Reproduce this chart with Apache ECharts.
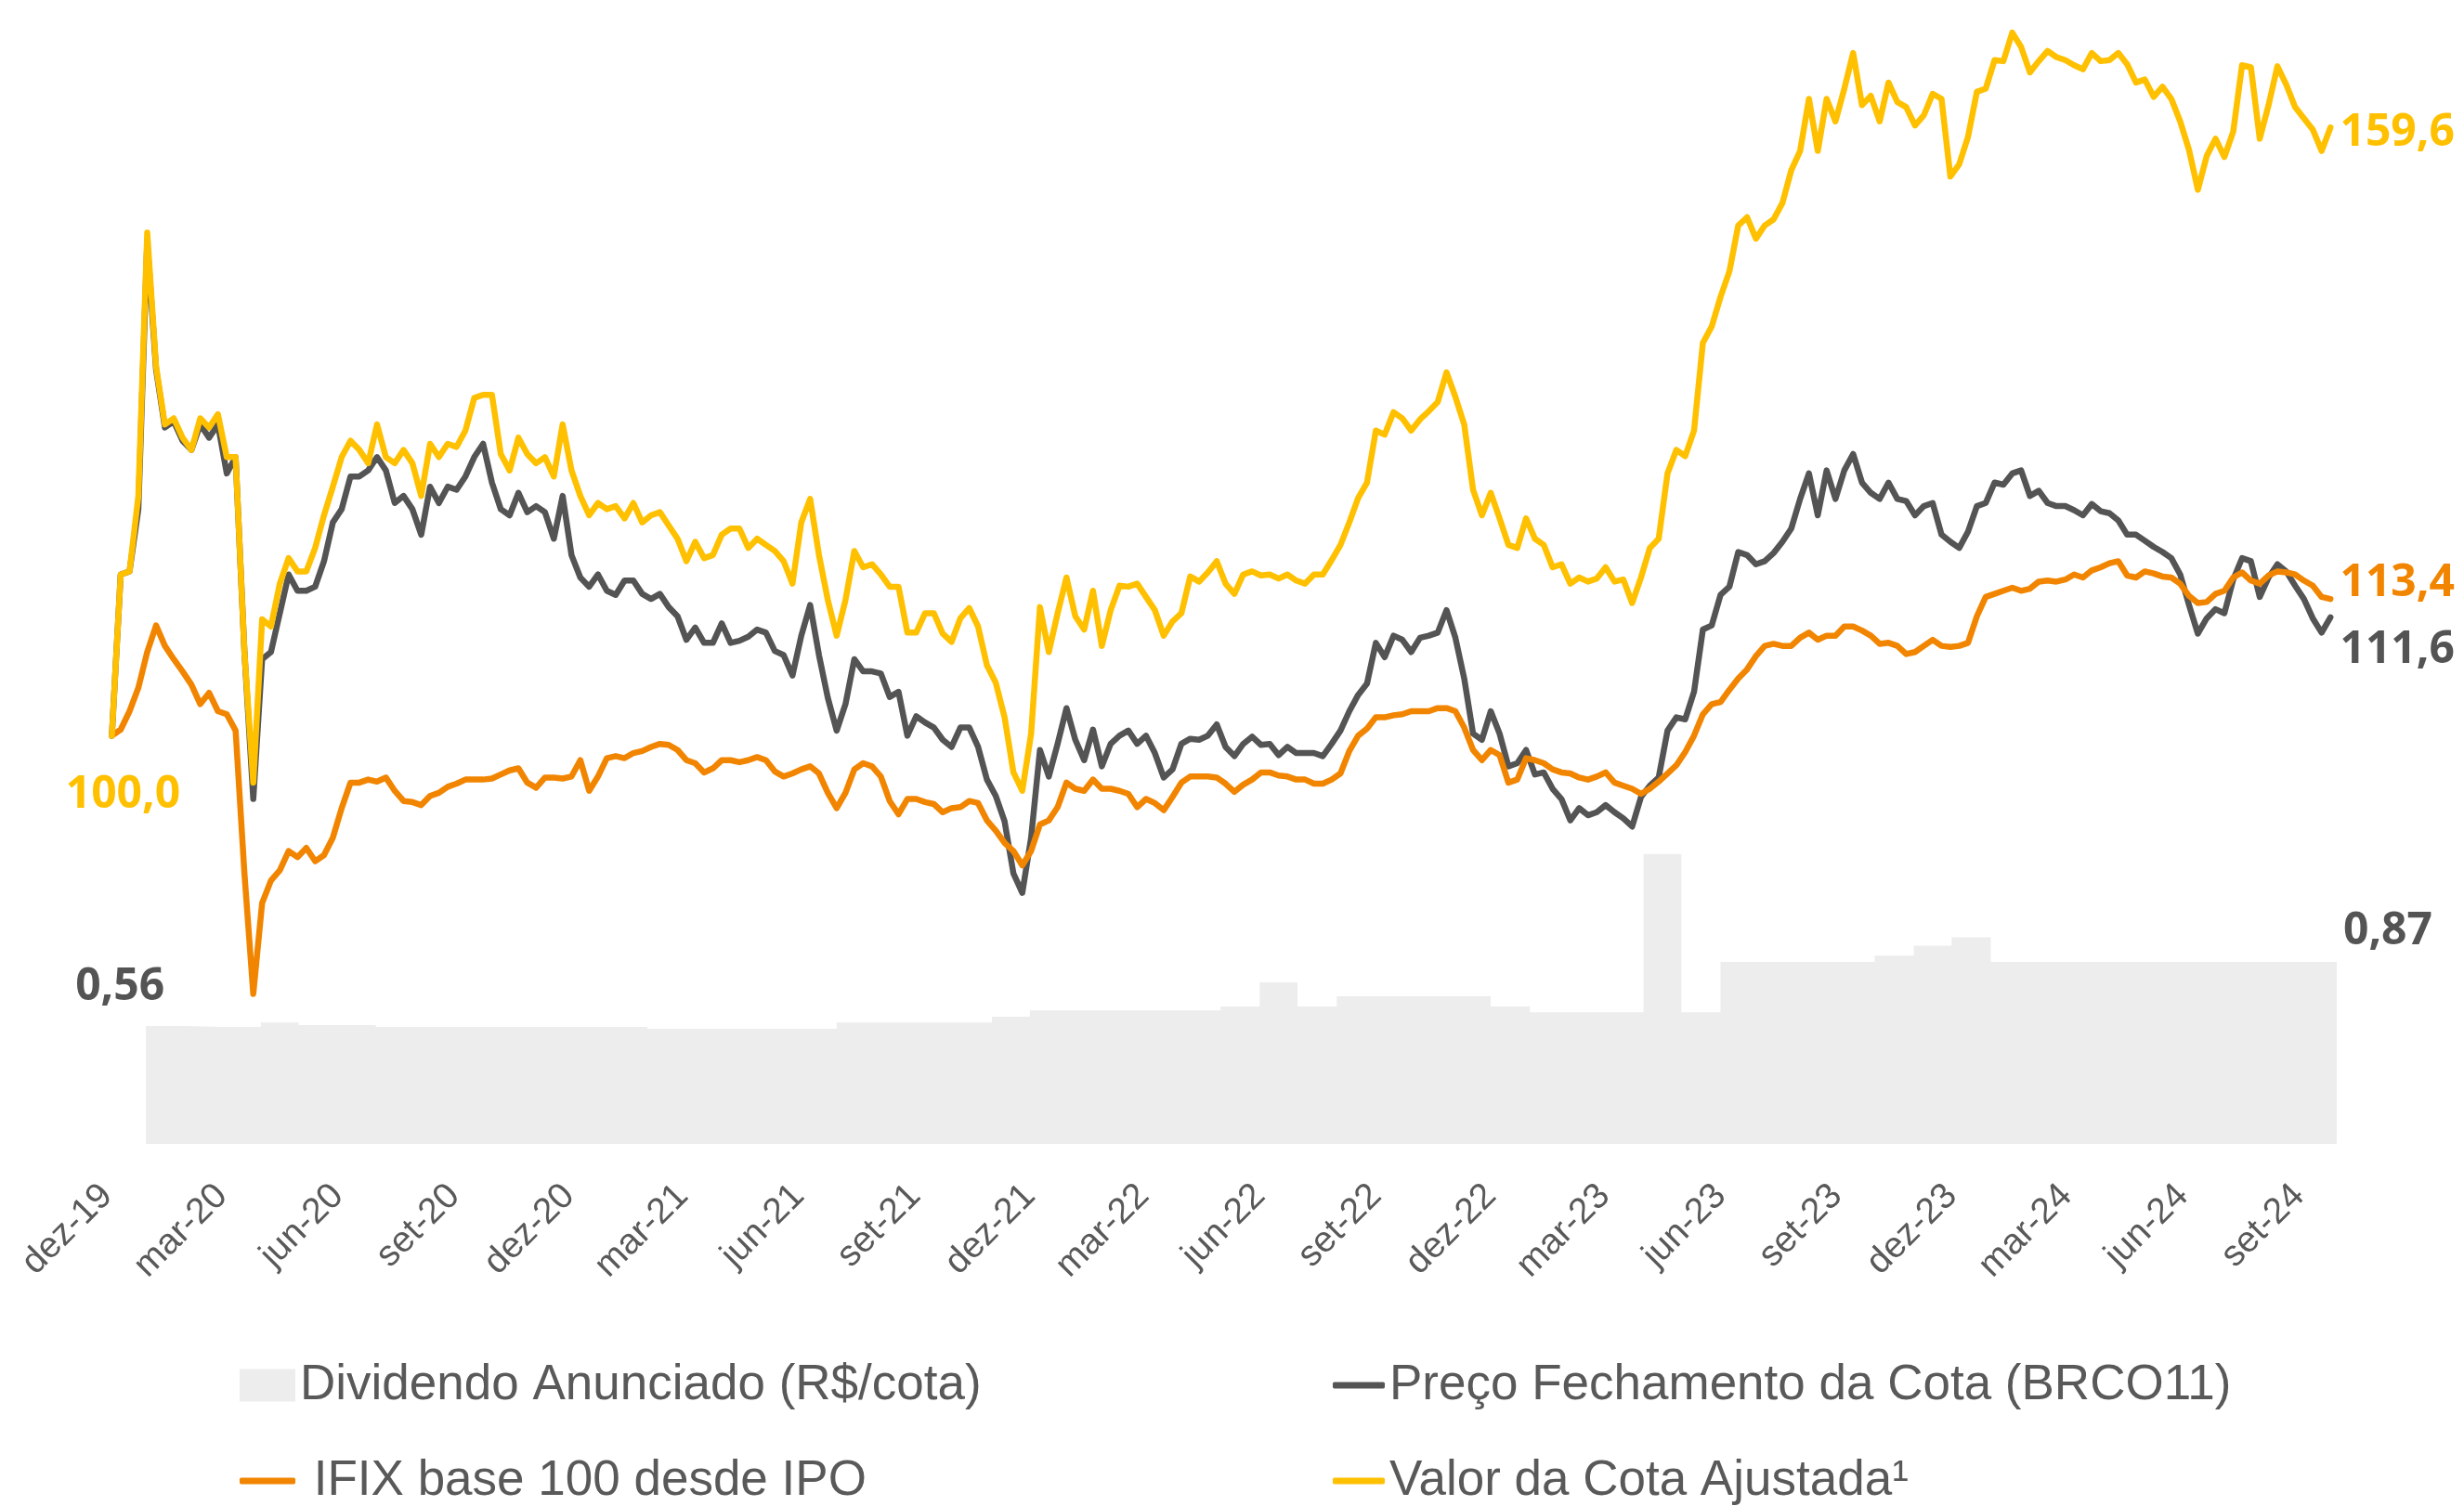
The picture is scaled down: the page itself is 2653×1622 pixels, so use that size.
<!DOCTYPE html>
<html><head><meta charset="utf-8">
<script src="https://cdn.jsdelivr.net/npm/echarts@6/dist/echarts.min.js"></script>
<style>html,body{margin:0;padding:0;background:#fff}#c{width:2653px;height:1622px}</style>
</head><body><div id="c"></div>
<script>
// ---- tick labels (quarterly) ----
const tickDates = ['2019-12-01','2020-03-01','2020-06-01','2020-09-01','2020-12-01','2021-03-01','2021-06-01','2021-09-01','2021-12-01','2022-03-01','2022-06-01','2022-09-01','2022-12-01','2023-03-01','2023-06-01','2023-09-01','2023-12-01','2024-03-01','2024-06-01','2024-09-01'];
const tickLabels = ['dez-19','mar-20','jun-20','set-20','dez-20','mar-21','jun-21','set-21','dez-21','mar-22','jun-22','set-22','dez-22','mar-23','jun-23','set-23','dez-23','mar-24','jun-24','set-24'];

// ---- weekly closes, first week 2019-12-05 ----
const firstWeek = '2019-12-05';
const valorCota = [
100.0,115.8,116.1,123.5,149.3,136.2,130.5,131.1,129.2,128.0,
131.1,130.2,131.5,127.3,127.3,108.2,95.4,111.4,110.7,114.9,
117.4,116.1,116.1,118.4,121.6,124.4,127.3,128.9,128.0,126.7,
130.5,127.3,126.7,128.0,126.7,123.5,128.6,127.3,128.6,128.3,
129.9,133.1,133.4,133.4,127.6,126.0,129.2,127.6,126.7,127.3,
125.4,130.5,126.0,123.5,121.6,122.8,122.2,122.5,121.3,122.8,
120.9,121.6,121.9,120.6,119.3,117.1,119.0,117.4,117.7,119.7,
120.3,120.3,118.4,119.3,118.7,118.1,117.1,114.9,120.9,123.2,
117.7,113.3,109.8,113.3,118.1,116.5,116.8,115.8,114.6,114.6,
110.1,110.1,112.0,112.0,110.0,109.2,111.5,112.5,110.7,106.9,
105.2,101.8,96.4,94.6,100.2,112.6,108.2,112.0,115.5,111.7,
110.4,114.2,108.8,112.3,114.7,114.6,114.9,113.6,112.3,109.8,
111.2,112.0,115.6,115.1,116.0,117.1,114.9,113.9,115.8,116.1,
115.7,115.8,115.4,115.8,115.2,114.9,115.8,115.8,117.2,118.7,
120.9,123.3,124.8,129.9,129.5,131.7,131.1,129.9,131.0,131.8,
132.7,135.6,133.2,130.5,124.1,121.6,123.8,121.3,118.7,118.4,
121.3,119.3,118.7,116.5,116.8,114.9,115.5,115.1,115.4,116.5,
115.1,115.3,113.0,115.5,118.4,119.3,125.7,128.0,127.4,129.9,
138.5,140.1,143.0,145.5,150.0,150.8,148.7,150.0,150.6,152.2,
155.4,157.3,162.4,157.3,162.4,160.2,163.4,166.9,161.8,162.7,
160.2,164.0,162.1,161.6,159.8,160.8,162.9,162.4,154.8,156.0,
158.7,163.1,163.4,166.2,166.1,168.9,167.5,165.0,166.1,167.1,
166.5,166.2,165.7,165.3,166.9,166.1,166.2,166.9,165.8,164.0,
164.3,162.6,163.6,162.4,160.2,157.4,153.5,156.8,158.5,156.7,
159.2,165.7,165.5,158.5,161.8,165.6,163.8,161.6,160.5,159.4,
157.3,159.6];
const precoCota = [
100.0,115.8,116.1,122.2,148.4,135.9,130.2,130.8,128.9,128.0,
130.5,129.2,130.5,125.7,127.3,108.2,93.8,107.5,108.2,112.0,
115.8,114.2,114.2,114.6,117.1,120.9,122.2,125.4,125.4,126.0,
127.3,126.0,122.8,123.5,122.2,119.7,124.4,122.8,124.4,124.1,
125.4,127.3,128.6,124.8,122.2,121.6,123.8,121.9,122.5,121.9,
119.3,123.5,117.7,115.5,114.6,115.8,114.2,113.8,115.2,115.2,
113.9,113.4,113.9,112.6,111.7,109.4,110.6,109.1,109.1,111.0,
109.1,109.3,109.7,110.4,110.1,108.3,107.9,105.9,109.8,112.8,
107.9,103.7,100.5,103.1,107.5,106.3,106.3,106.1,103.8,104.3,
100.0,101.9,101.3,100.8,99.6,98.9,100.8,100.8,98.9,95.7,
94.1,91.6,86.5,84.6,90.0,98.6,96.0,99.2,102.7,99.6,
97.6,100.6,97.0,99.2,100.0,100.5,99.2,100.0,98.3,95.9,
96.7,99.2,99.7,99.6,100.0,101.1,98.9,98.0,99.2,99.9,
99.1,99.2,98.1,98.9,98.3,98.3,98.3,98.0,99.2,100.5,
102.4,104.0,105.1,109.1,107.7,109.8,109.4,108.2,109.6,109.8,
110.1,112.3,109.6,105.6,100.2,99.6,102.4,100.2,97.0,97.3,
98.6,96.2,96.4,94.8,93.8,91.7,92.9,92.2,92.5,93.2,
92.5,91.9,91.1,94.0,95.1,95.9,100.5,101.8,101.6,104.3,
110.4,110.8,113.8,114.6,118.0,117.7,116.8,117.1,117.9,119.0,
120.3,123.2,125.7,121.6,126.0,123.2,126.0,127.6,124.8,123.8,
123.2,124.8,123.2,123.0,121.6,122.5,122.8,119.7,119.0,118.4,
120.0,122.5,122.8,124.8,124.6,125.7,126.0,123.5,124.0,122.8,
122.5,122.5,122.1,121.6,122.7,122.0,121.8,121.1,119.7,119.7,
119.1,118.5,118.0,117.4,115.8,112.8,110.0,111.5,112.4,112.0,
115.3,117.4,117.1,113.6,115.5,116.8,116.1,114.7,113.4,111.5,
110.1,111.6];
const ifix = [
100.0,100.6,102.4,104.7,108.2,110.8,108.8,107.5,106.3,105.0,
103.1,104.2,102.4,102.1,100.5,86.5,74.7,83.6,85.8,86.8,
88.7,88.1,89.0,87.7,88.3,90.0,92.9,95.4,95.4,95.7,
95.5,95.9,94.6,93.6,93.5,93.2,94.1,94.4,95.0,95.3,
95.7,95.7,95.7,95.8,96.2,96.6,96.8,95.4,94.9,95.9,
95.9,95.8,96.0,97.6,94.6,96.0,97.8,98.0,97.8,98.3,
98.5,98.9,99.2,99.1,98.6,97.6,97.3,96.4,96.8,97.6,
97.6,97.4,97.6,97.9,97.6,96.5,96.0,96.3,96.7,97.0,
96.3,94.4,92.9,94.4,96.7,97.3,97.0,96.0,93.6,92.3,
93.8,93.8,93.5,93.3,92.5,92.9,93.0,93.6,93.4,91.7,
90.7,89.5,88.7,87.3,88.7,91.3,91.7,93.0,95.4,94.8,
94.6,95.7,94.8,94.8,94.6,94.3,93.0,93.8,93.4,92.7,
94.0,95.4,96.0,96.0,96.0,95.9,95.3,94.5,95.2,95.7,
96.4,96.4,96.1,96.0,95.7,95.7,95.3,95.3,95.7,96.3,
98.5,100.0,100.7,101.8,101.8,102.0,102.1,102.4,102.4,102.4,
102.7,102.7,102.4,100.8,98.6,97.6,98.6,98.1,95.4,95.7,
97.8,97.6,97.3,96.7,96.4,96.3,95.9,95.7,96.0,96.4,
95.4,95.1,94.8,94.3,94.8,95.5,96.3,97.1,98.4,100.0,
102.1,103.1,103.3,104.5,105.6,106.5,107.8,108.8,109.0,108.8,
108.8,109.6,110.1,109.4,109.8,109.8,110.7,110.7,110.3,109.8,
109.0,109.1,108.8,108.0,108.2,108.8,109.4,108.8,108.7,108.8,
109.1,111.7,113.6,113.9,114.2,114.5,114.2,114.4,115.1,115.2,
115.1,115.3,115.8,115.5,116.2,116.5,116.9,117.1,115.7,115.5,
116.1,115.9,115.6,115.5,114.9,113.7,113.0,113.1,113.9,114.2,
115.5,116.0,115.2,114.9,115.7,116.1,116.0,115.8,115.2,114.7,
113.6,113.4];

// ---- monthly dividends (R$/cota), Jan 2020 .. Sep 2024 ----
const firstDividendMonth = '2020-01-01';
const dividendo = [
0.564,0.559,0.559,0.580,0.568,0.568,
0.559,0.559,0.559,0.559,0.559,0.559,
0.559,0.550,0.550,0.550,0.550,0.550,
0.580,0.580,0.580,0.580,0.608,0.638,
0.638,0.638,0.638,0.638,0.657,0.772,
0.657,0.706,0.706,0.706,0.706,0.657,
0.629,0.629,0.629,1.386,0.629,0.870,
0.870,0.870,0.870,0.900,0.948,0.987,
0.870,0.870,0.870,0.870,0.870,0.870,0.870,0.870,0.870];

const names = {
  div: 'Dividendo Anunciado (R$/cota)',
  preco: 'Preço Fechamento da Cota (BRCO11)',
  ifix: ' IFIX base 100 desde IPO',
  valor: 'Valor da Cota Ajustada¹'
};
const colors = { div:'#ededed', preco:'#545454', ifix:'#f28500', valor:'#ffc000' };

function parseD(s){ const p = s.split('-').map(Number); return new Date(p[0], p[1]-1, p[2]); }
const w0 = parseD(firstWeek);
const weekTimes = valorCota.map((_, k) => new Date(w0.getFullYear(), w0.getMonth(), w0.getDate() + 7*k).getTime());
const m0 = parseD(firstDividendMonth);
const monthTimes = [];
for (let i = 0; i <= dividendo.length; i++) monthTimes.push(new Date(m0.getFullYear(), m0.getMonth() + i, 1).getTime());
const divData = dividendo.map((v, i) => [monthTimes[i], v]);
divData.push([monthTimes[dividendo.length], dividendo[dividendo.length-1]]);
const pair = arr => arr.map((v, k) => [weekTimes[k], v]);
const tickTimes = tickDates.map(s => parseD(s).getTime());

const fmt = (v, d) => v.toFixed(d).replace('.', ',');
const lblStyle = (color, offset) => ({ show:true, position:'inside', offset, color, fontSize:48, fontWeight:'bold', fontFamily:'Open Sans' });
function markPts(items){
  return { symbol:'circle', symbolSize:1, itemStyle:{color:'rgba(0,0,0,0)'}, silent:true, animation:false,
    data: items.map(it => ({ coord: it.coord, value: it.text, label: Object.assign(lblStyle(it.color, it.offset), { formatter: it.text }) })) };
}
const lastK = valorCota.length - 1;
const LW = 6.5;

const legendBase = { padding:0, selectedMode:false, orient:'horizontal',
  textStyle:{ fontFamily:'Liberation Sans, Arial, sans-serif', fontSize:53, color:'#595959', lineHeight:60 } };

const option = {
  animation:false,
  backgroundColor:'#ffffff',
  grid:{ left:115, right:137, top:23, bottom:390, containLabel:false },
  xAxis:{ type:'value', min: parseD('2019-12-01').getTime(), max: parseD('2024-10-01').getTime(),
    axisLine:{show:false}, axisTick:{show:false}, splitLine:{show:false},
    axisLabel:{ customValues: tickTimes, rotate:45, margin:50, fontFamily:'Liberation Sans, Arial, sans-serif', fontSize:39, color:'#595959',
      formatter: v => { let best = 0; for (let i = 1; i < tickTimes.length; i++) if (Math.abs(tickTimes[i]-v) < Math.abs(tickTimes[best]-v)) best = i; return tickLabels[best]; } } },
  yAxis:[
    { type:'value', min:60, max:170, show:false, splitLine:{show:false} },
    { type:'value', min:0, max:5.366, show:false, splitLine:{show:false} }
  ],
  legend:[
    Object.assign({}, legendBase, { left:258, top:1462, itemWidth:60, itemHeight:35, data:[{name:names.div, icon:'rect'}] }),
    Object.assign({}, legendBase, { left:258, top:1565, itemWidth:60, itemHeight:7, data:[{name:names.ifix, icon:'roundRect'}] }),
    Object.assign({}, legendBase, { left:1435, top:1462, itemWidth:56, itemHeight:7, data:[{name:names.preco, icon:'roundRect'}] }),
    Object.assign({}, legendBase, { left:1435, top:1565, itemWidth:56, itemHeight:7, data:[{name:names.valor, icon:'roundRect'}] })
  ],
  series:[
    { name:names.div, type:'line', yAxisIndex:1, step:'end', symbol:'none', z:1,
      itemStyle:{color:colors.div}, lineStyle:{color:colors.div, width:0, opacity:0},
      areaStyle:{color:colors.div, opacity:1}, data: divData,
      markPoint: markPts([
        { coord:divData[0], text:fmt(dividendo[0],2), color:'#545454', offset:[-28,-42] },
        { coord:divData[divData.length-1], text:fmt(dividendo[dividendo.length-1],2), color:'#545454', offset:[55,-33] }
      ]) },
    { name:names.preco, type:'line', symbol:'none', z:3, itemStyle:{color:colors.preco},
      lineStyle:{color:colors.preco, width:LW, join:'round', cap:'round'}, data: pair(precoCota),
      markPoint: markPts([{ coord:[weekTimes[lastK], precoCota[lastK]], text:fmt(precoCota[lastK],1), color:'#545454', offset:[72,35] }]) },
    { name:names.ifix, type:'line', symbol:'none', z:4, itemStyle:{color:colors.ifix},
      lineStyle:{color:colors.ifix, width:LW, join:'round', cap:'round'}, data: pair(ifix),
      markPoint: markPts([{ coord:[weekTimes[lastK], ifix[lastK]], text:fmt(ifix[lastK],1), color:colors.ifix, offset:[72,-17] }]) },
    { name:names.valor, type:'line', symbol:'none', z:5, itemStyle:{color:colors.valor},
      lineStyle:{color:colors.valor, width:LW, join:'round', cap:'round'}, data: pair(valorCota),
      markPoint: markPts([
        { coord:[weekTimes[0], valorCota[0]], text:fmt(valorCota[0],1), color:colors.valor, offset:[12,64] },
        { coord:[weekTimes[lastK], valorCota[lastK]], text:fmt(valorCota[lastK],1), color:colors.valor, offset:[72,6] }
      ]) }
  ]
};
const chart = echarts.init(document.getElementById('c'), null, { renderer:'canvas', width:2653, height:1622 });
chart.setOption(option);
</script></body></html>
